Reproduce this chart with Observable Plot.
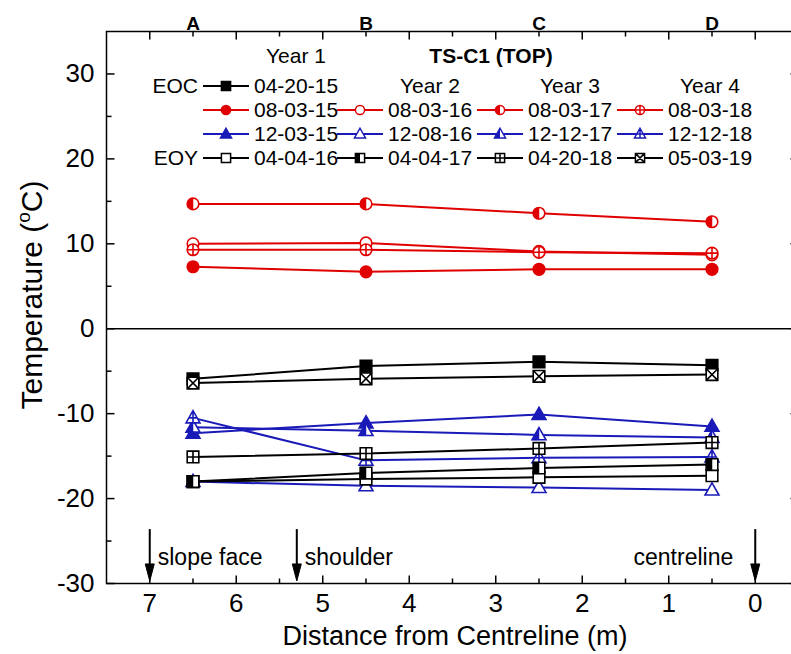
<!DOCTYPE html>
<html><head><meta charset="utf-8">
<script src="https://cdn.jsdelivr.net/npm/d3@7"></script>
<script src="https://cdn.jsdelivr.net/npm/@observablehq/plot@0.6"></script>
<style>
html,body{margin:0;padding:0;overflow:hidden;background:#fff;}
</style></head><body><div id="chart"></div>
<script>
// ---- data ----
const positions = [6.5, 4.5, 2.5, 0.5];
const stationLabels = ["A", "B", "C", "D"];
const dates = ["04-20-15","08-03-15","08-03-16","08-03-17","08-03-18","12-03-15","12-08-16","12-12-17","12-12-18","04-04-16","04-04-17","04-20-18","05-03-19"];
const t_042015 = [-5.9, -4.4, -3.9, -4.3];
const t_080315 = [7.3, 6.7, 7.0, 7.0];
const t_080316 = [10.0, 10.1, 9.1, 8.7];
const t_080317 = [14.7, 14.7, 13.6, 12.6];
const t_080318 = [9.3, 9.3, 9.0, 8.9];
const t_120315 = [-12.3, -11.1, -10.1, -11.5];
const t_120816 = [-18.0, -18.5, -18.7, -19.0];
const t_121217 = [-11.6, -12.0, -12.5, -12.8];
const t_121218 = [-10.5, -15.5, -15.2, -15.1];
const t_040416 = [-18.0, -17.7, -17.5, -17.3];
const t_040417 = [-18.0, -17.0, -16.4, -16.0];
const t_042018 = [-15.1, -14.7, -14.1, -13.4];
const t_050319 = [-6.4, -5.9, -5.6, -5.4];
const seriesValues = [t_042015,t_080315,t_080316,t_080317,t_080318,t_120315,t_120816,t_121217,t_121218,t_040416,t_040417,t_042018,t_050319];

const xTickValues = [0, 1, 2, 3, 4, 5, 6, 7];
const xMinorTicks = [0.5, 1.5, 2.5, 3.5, 4.5, 5.5, 6.5];
const yTickValues = [-30, -20, -10, 0, 10, 20, 30];
const yMinorTicks = [-25, -15, -5, 5, 15, 25];

const annotLabels = ["slope face", "shoulder", "centreline"];
const annotX = [7, 5.3, 0];
const arrowTop = -24.3;
const arrowTip = -29.7;
const annotTextY = -26.9;

// legend structure
const legendRow = [0,1,1,1,1,2,2,2,2,3,3,3,3];
const legendCol = [0,0,1,2,3,0,1,2,3,0,1,2,3];
const yearHeaders = ["Year 1", "Year 2", "Year 3", "Year 4"];
const rowHeaders = ["EOC", "", "", "EOY"];
const legendTitle = "TS-C1 (TOP)";

// ---- styles ----
const RED = "#e00000", BLUE = "#1a1ab8", BLACK = "#000";
const seriesColor = [BLACK, RED, RED, RED, RED, BLUE, BLUE, BLUE, BLUE, BLACK, BLACK, BLACK, BLACK];
const seriesShape = ["square","circle","circle","circle","circle","triangle","triangle","triangle","triangle","square","square","square","square"];
const seriesStyle = ["filled","filled","open","half","plus","filled","open","half","plus","open","half","plus","x"];
const FONT = "'Liberation Sans',Arial,Helvetica,sans-serif";

// ---- symbol helpers ----
function triDims(r){ return {h: r*1.25, b: r*0.85, w: r*1.2}; }
function outlinePath(ctx, shape, r){
  if (shape === "circle") { ctx.moveTo(r, 0); ctx.arc(0, 0, r, 0, 2*Math.PI); ctx.closePath(); }
  else if (shape === "square") { ctx.rect(-r, -r, 2*r, 2*r); }
  else { const {h,b,w} = triDims(r); ctx.moveTo(0,-h); ctx.lineTo(w,b); ctx.lineTo(-w,b); ctx.closePath(); }
}
function innerPath(ctx, shape, style, r){
  if (style === "plus") {
    if (shape === "triangle") {
      const {h,b,w} = triDims(r);
      ctx.moveTo(0,-h); ctx.lineTo(0,b);
      const yy = (b - h) / 2 + r*0.2; const hw = w * (yy + h) / (h + b);
      ctx.moveTo(-hw, yy); ctx.lineTo(hw, yy);
    } else { ctx.moveTo(-r,0); ctx.lineTo(r,0); ctx.moveTo(0,-r); ctx.lineTo(0,r); }
  } else if (style === "x") {
    ctx.moveTo(-r,-r); ctx.lineTo(r,r); ctx.moveTo(r,-r); ctx.lineTo(-r,r);
  }
}
function halfPath(ctx, shape, r){
  if (shape === "circle") { ctx.moveTo(0,-r); ctx.arc(0,0,r,-Math.PI/2,Math.PI/2,true); ctx.closePath(); }
  else if (shape === "square") { ctx.rect(-r,-r,r,2*r); }
  else { const {h,b,w} = triDims(r); ctx.moveTo(0,-h); ctx.lineTo(0,b); ctx.lineTo(-w,b); ctx.closePath(); }
}
const symOutline = (shape, style, r) => ({draw(ctx){ outlinePath(ctx, shape, r); innerPath(ctx, shape, style, r); }});
const symHalf = (shape, r) => ({draw(ctx){ halfPath(ctx, shape, r); }});
const tickSym = (dx, dy) => ({draw(ctx){ ctx.moveTo(0,0); ctx.lineTo(dx,dy); }});
const arrowHead = {draw(ctx){ ctx.moveTo(0,0); ctx.lineTo(-4.5,-17); ctx.lineTo(4.5,-17); ctx.closePath(); }};

// ---- build marks ----
const R = 5.8;
const marks = [];
marks.push(Plot.ruleY([0], {stroke: BLACK, strokeWidth: 1.5}));
dates.forEach((d, i) => {
  const rows = positions.map((x, j) => ({date: d, x, t: seriesValues[i][j]}));
  const color = seriesColor[i], shape = seriesShape[i], style = seriesStyle[i];
  marks.push(Plot.line(rows, {x: "x", y: "t", stroke: color, strokeWidth: 2}));
  marks.push(Plot.dot(rows, {x: "x", y: "t", symbol: symOutline(shape, style, R), fill: style === "filled" ? color : "white", stroke: color, strokeWidth: 1.6}));
  if (style === "half") marks.push(Plot.dot(rows, {x: "x", y: "t", symbol: symHalf(shape, R), fill: color, stroke: color, strokeWidth: 0.5}));
});

// inward ticks
const tk = {stroke: BLACK, strokeWidth: 1.5, fill: "none"};
marks.push(Plot.dot(yTickValues, {y: d => d, frameAnchor: "left", symbol: tickSym(8, 0), ...tk}));
marks.push(Plot.dot(yMinorTicks, {y: d => d, frameAnchor: "left", symbol: tickSym(5, 0), ...tk}));
marks.push(Plot.dot(yTickValues, {y: d => d, frameAnchor: "right", symbol: tickSym(-8, 0), ...tk}));
marks.push(Plot.dot(yMinorTicks, {y: d => d, frameAnchor: "right", symbol: tickSym(-5, 0), ...tk}));
marks.push(Plot.dot(xTickValues, {x: d => d, frameAnchor: "bottom", symbol: tickSym(0, -8), ...tk}));
marks.push(Plot.dot(xMinorTicks, {x: d => d, frameAnchor: "bottom", symbol: tickSym(0, -5), ...tk}));
marks.push(Plot.dot(xTickValues, {x: d => d, frameAnchor: "top", symbol: tickSym(0, 8), ...tk}));
marks.push(Plot.dot(xMinorTicks, {x: d => d, frameAnchor: "top", symbol: tickSym(0, 5), ...tk}));

// axes labels
marks.push(Plot.axisX({ticks: xTickValues, tickSize: 0, tickPadding: 10, tickFormat: d => String(d), label: null, fontSize: 26}));
marks.push(Plot.axisY({ticks: yTickValues, tickSize: 0, tickPadding: 12, tickFormat: d => String(d), label: null, fontSize: 26}));

// station labels on top
marks.push(Plot.text(positions, {x: d => d, text: (d, i) => stationLabels[i], frameAnchor: "top", dy: -15, fontWeight: "bold", fontSize: 19}));

// annotations
const annots = annotX.map((x, i) => ({x, label: annotLabels[i]}));
marks.push(Plot.link(annots, {x1: "x", x2: "x", y1: () => arrowTop, y2: () => arrowTip, stroke: BLACK, strokeWidth: 2, dy: -6}));
marks.push(Plot.dot(annots, {x: "x", y: () => arrowTip, symbol: arrowHead, fill: BLACK, stroke: BLACK, strokeWidth: 1}));
marks.push(Plot.text(annots.filter(d => d.x !== 0), {x: "x", y: () => annotTextY, text: "label", textAnchor: "start", dx: 8, fontSize: 23}));
marks.push(Plot.text(annots.filter(d => d.x === 0), {x: "x", y: () => annotTextY, text: "label", textAnchor: "end", dx: -22, fontSize: 23}));

marks.push(Plot.frame({stroke: BLACK, strokeWidth: 1.5}));

const chart = Plot.plot({
  width: 791, height: 654,
  marginLeft: 106, marginRight: -7, marginTop: 31, marginBottom: 71,
  x: {domain: [7.5, -0.5], axis: null},
  y: {domain: [-30, 35], axis: null},
  style: {fontFamily: FONT, background: "white", color: "black", overflow: "hidden"},
  marks
});
document.getElementById("chart").append(chart);

// ---- titles & legend ----
const svg = d3.select(chart);
const yt = svg.append("text").attr("transform", "translate(42,295) rotate(-90)")
  .attr("text-anchor", "middle").attr("font-family", FONT).attr("font-size", 30).attr("fill", "black");
yt.append("tspan").text("Temperature (");
yt.append("tspan").attr("font-size", 19).attr("dy", -12).text("o");
yt.append("tspan").attr("dy", 12).text("C)");
svg.append("text").attr("x", 455).attr("y", 645).attr("text-anchor", "middle")
  .attr("font-family", FONT).attr("font-size", 27).attr("fill", "black").text("Distance from Centreline (m)");

const rowY = [86, 110, 134, 158];
const colTextX = [254, 388, 528, 668];
const LR = 4.6;
const lg = svg.append("g").attr("font-family", FONT).attr("font-size", 21).attr("fill", "black").attr("text-anchor", "start");
dates.forEach((d, i) => {
  const y = rowY[legendRow[i]], tx = colTextX[legendCol[i]];
  const color = seriesColor[i], shape = seriesShape[i], style = seriesStyle[i];
  lg.append("line").attr("x1", tx - 51).attr("x2", tx - 5).attr("y1", y).attr("y2", y).attr("stroke", color).attr("stroke-width", 2);
  const cx = tx - 28;
  const p1 = d3.path(); symOutline(shape, style, LR).draw(p1);
  lg.append("path").attr("d", p1.toString()).attr("transform", `translate(${cx},${y})`)
    .attr("fill", style === "filled" ? color : "white").attr("stroke", color).attr("stroke-width", 1.5);
  if (style === "half") {
    const p2 = d3.path(); symHalf(shape, LR).draw(p2);
    lg.append("path").attr("d", p2.toString()).attr("transform", `translate(${cx},${y})`).attr("fill", color);
  }
  lg.append("text").attr("x", tx).attr("y", y).attr("dy", "0.35em").attr("text-anchor", "start").text(d);
});
rowHeaders.forEach((h, r) => { if (h) lg.append("text").attr("x", 198).attr("y", rowY[r]).attr("dy", "0.35em").attr("text-anchor", "end").text(h); });
yearHeaders.forEach((h, c) => {
  const y = c === 0 ? 56 : rowY[0];
  lg.append("text").attr("x", colTextX[c] + 42).attr("y", y).attr("dy", "0.35em").attr("text-anchor", "middle").text(h);
});
lg.append("text").attr("x", 491).attr("y", 56).attr("dy", "0.35em").attr("text-anchor", "middle").attr("font-weight", "bold").text(legendTitle);
</script></body></html>
